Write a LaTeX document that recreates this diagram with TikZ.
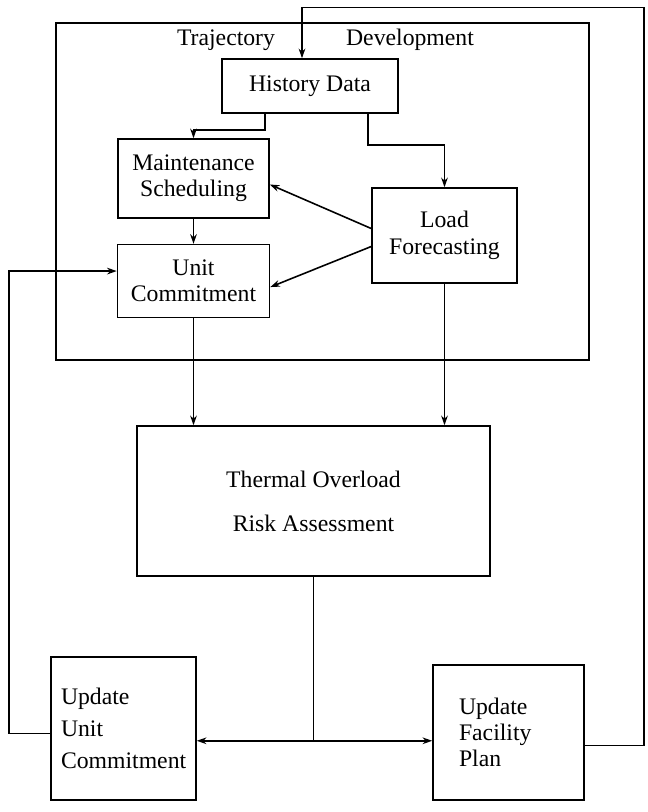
\documentclass[tikz,border=0pt]{standalone}
\usepackage{fontspec}
\setmainfont{Liberation Serif}
\usetikzlibrary{positioning,calc,arrows.meta}

\begin{document}
\begin{tikzpicture}[x=0.02cm,y=-0.02cm,line width=0.9pt,
        blk/.style={draw,inner sep=2pt,font=\fontsize{13.5}{15}\selectfont},
        lbl/.style={font=\fontsize{13.5}{15}\selectfont},
        >={Stealth[length=5.5pt,width=3.8pt]}]
        \useasboundingbox (0,0) rectangle (647,812);

        % trajectory development frame
        \draw (56,23) rectangle (589,360);
        \node[lbl] (traj) at (226,40) {Trajectory};
        \node[lbl] (dev) at (410,40) {Development};

        \node[blk,minimum width=3.52cm,minimum height=1.08cm] (hist) at (310,86) {History Data};
        \node[blk,minimum width=3.02cm,minimum height=1.58cm,align=center] (maint) at (193.5,178.5) {Maintenance\\Scheduling};
        \node[blk,minimum width=3.04cm,minimum height=1.46cm,align=center] (unit) [below=0.5cm of maint] {Unit\\Commitment};
        \node[blk,minimum width=2.9cm,minimum height=1.9cm,align=center] (load) at (444.5,235.5) {Load\\Forecasting};
        \node[blk,minimum width=7.06cm,minimum height=3cm,align=center] (thermal) at (313.5,501) {Thermal Overload\\[10pt]Risk Assessment};
        \node[blk,minimum width=2.9cm,minimum height=2.86cm,text width=2.5cm,align=left] (uuc) at (123.5,728.5) {Update\\[3pt]Unit\\[3pt]Commitment};
        \node[blk,minimum width=3.02cm,minimum height=2.7cm,text width=1.98cm,align=left] (ufp) at (508.5,732.5) {Update\\Facility\\Plan};

        \draw[->] ($(hist.south)+(-45,0)$) -- ++(0,16) -| (maint.north);
        \draw[->] ($(hist.south)+(58,0)$) -- ++(0,31) -| (load.north);
        \draw[->] ($(load.west)+(0,-7)$) -- ($(maint.east)+(0,6)$);
        \draw[->] ($(load.west)+(0,11)$) -- ($(unit.east)+(0,6)$);
        \foreach \a/\b in {maint/unit,unit/thermal,load/thermal}{
            \draw[->] (\a.south) -- (\a.south |- \b.north);
        }

        \coordinate (j) at ($(thermal.south)+(0,164)$);
        \draw (thermal.south) -- (j);
        \foreach \b in {uuc.east,ufp.west}{
            \draw[->] (j) -- (j -| \b);
        }

        % feedback loops
        \draw[->] ($(uuc.west)+(0,5)$) -- ++(-41,0) |- ($(unit.west)+(0,-10)$);
        \draw[->] ($(ufp.east)+(0,13)$) -- ++(59,0) -- ++(0,-738) -| ($(hist.north)+(-8,0)$);
    \end{tikzpicture}
\end{document}
